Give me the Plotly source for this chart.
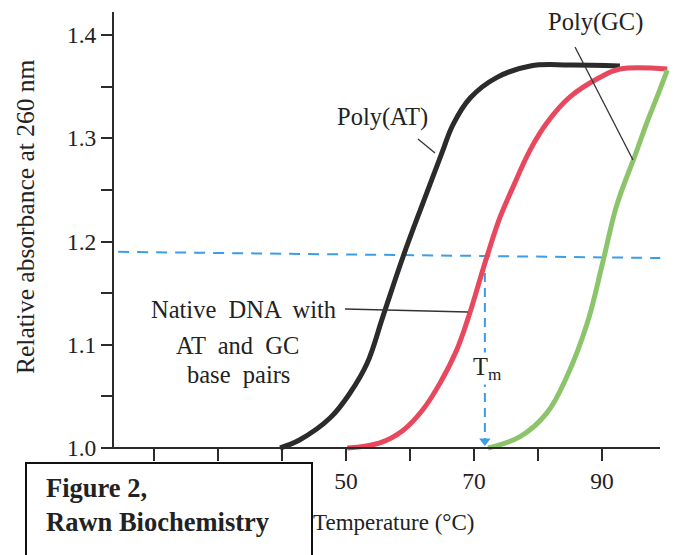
import plotly.graph_objects as go

# ---------------- data ----------------
poly_at_temp = [39.7, 42.8, 47.5, 50.6, 53.3, 55.8, 58.9, 62.0, 65.0, 66.7, 69.4, 73.6, 78.8, 85.0, 92.8]
poly_at_abs = [1.000, 1.008, 1.029, 1.053, 1.082, 1.128, 1.185, 1.237, 1.286, 1.313, 1.339, 1.359, 1.370, 1.371, 1.370]

native_temp = [50.2, 55.3, 58.9, 62.0, 64.7, 67.3, 69.1, 72.0, 74.1, 75.9, 78.8, 81.4, 85.0, 89.7, 92.8, 100.2]
native_abs = [1.000, 1.005, 1.017, 1.037, 1.063, 1.095, 1.126, 1.185, 1.224, 1.250, 1.289, 1.315, 1.340, 1.359, 1.367, 1.367]

poly_gc_temp = [72.2, 77.2, 81.4, 84.5, 87.7, 90.2, 92.3, 95.2, 97.0, 98.6, 100.2]
poly_gc_abs = [1.000, 1.011, 1.034, 1.069, 1.121, 1.182, 1.235, 1.284, 1.315, 1.340, 1.366]

tm_native = 71.7
half_line_temp = [14.4, 99.1]
half_line_abs = [1.190, 1.184]

x_tick_vals = [20, 30, 40, 50, 60, 70, 80, 90]
x_tick_text = ["", "30", "", "50", "", "70", "", "90"]
y_tick_vals = [1.0, 1.05, 1.1, 1.15, 1.2, 1.25, 1.3, 1.35, 1.4]
y_tick_text = ["1.0", "", "1.1", "", "1.2", "", "1.3", "", "1.4"]

x_title = "Temperature (°C)"
y_title = "Relative absorbance at 260 nm"

# ---------------- layout geometry ----------------
W, H = 681, 555
ML, MR, MT, MB = 103, 9, 4, 91
PW, PH = W - ML - MR, H - MT - MB
PX50, PPD = 346, 6.4        # pixel of 50 degC, pixels per degC
PY1, PPA = 448, 1032.5      # pixel of absorbance 1.0, pixels per unit


def dx(px):
    return 50 + (px - PX50) / PPD


def dy(py):
    return 1.0 + (PY1 - py) / PPA


def paper(px, py):
    return (px - ML) / PW, ((H - MB) - py) / PH


xr = [dx(ML), dx(W - MR)]
yr = [dy(H - MB), dy(MT)]

FONT = "Liberation Serif, Times New Roman, serif"
TXT = "#222222"
BLACK = "#2b2b2b"
RED = "#e8485e"
GREEN = "#8cc46b"
BLUE = "#3d9ce6"

fig = go.Figure()

# half-absorbance dashed line
fig.add_trace(go.Scatter(x=half_line_temp, y=half_line_abs, mode="lines",
                         line=dict(color=BLUE, width=2, dash="11px,8px"),
                         hoverinfo="skip", showlegend=False))
# Tm dashed drop line
fig.add_trace(go.Scatter(x=[tm_native, tm_native], y=[half_line_abs[1], 1.0 + 8 / PPA], mode="lines",
                         line=dict(color=BLUE, width=2, dash="9px,6px"),
                         hoverinfo="skip", showlegend=False))
fig.add_trace(go.Scatter(x=[tm_native], y=[1.0 + 7 / PPA], mode="markers",
                         marker=dict(symbol="triangle-down", size=10, color=BLUE),
                         hoverinfo="skip", showlegend=False, cliponaxis=False))

# melting curves
fig.add_trace(go.Scatter(x=poly_at_temp, y=poly_at_abs, mode="lines", name="Poly(AT)",
                         line=dict(color=BLACK, width=5, shape="spline", smoothing=1.1),
                         showlegend=False))
fig.add_trace(go.Scatter(x=native_temp, y=native_abs, mode="lines", name="Native DNA",
                         line=dict(color=RED, width=5, shape="spline", smoothing=1.1),
                         showlegend=False))
fig.add_trace(go.Scatter(x=poly_gc_temp, y=poly_gc_abs, mode="lines", name="Poly(GC)",
                         line=dict(color=GREEN, width=5, shape="spline", smoothing=1.1),
                         showlegend=False))

shapes = []
# axis lines
shapes.append(dict(type="line", xref="x", yref="y", x0=dx(113), x1=dx(660), y0=1.0, y1=1.0,
                   line=dict(color=BLACK, width=2)))
shapes.append(dict(type="line", xref="x", yref="y", x0=dx(113), x1=dx(113), y0=1.0, y1=dy(12),
                   line=dict(color=BLACK, width=2)))
# leader lines
for (a, b, c, d) in [(418, 139, 435, 153), (575, 47, 633, 160), (345, 309, 468, 312)]:
    shapes.append(dict(type="line", xref="x", yref="y", x0=dx(a), y0=dy(b), x1=dx(c), y1=dy(d),
                       line=dict(color="#333333", width=1.3)))

annotations = []


def text_at(px, py, text, size=24.5, **kw):
    x, y = paper(px, py)
    d = dict(x=x, y=y, xref="paper", yref="paper", text=text, showarrow=False,
             font=dict(family=FONT, size=size, color=TXT), xanchor="center", yanchor="middle")
    d.update(kw)
    annotations.append(d)


text_at(382, 117, "Poly(AT)")
text_at(595, 22, "Poly(GC)")
text_at(243, 310, "Native  DNA  with")
text_at(237, 345, "AT  and  GC")
text_at(238, 374, "base  pairs")
text_at(487, 368, "T<sub>m</sub>", bgcolor="white", borderpad=0)
text_at(393, 522, x_title, size=23)
text_at(25, 217, y_title, size=25.5, textangle=-90)

# figure-credit box (drawn over the axis title like the reference)
bx, by = paper(25, 462)
annotations.append(dict(x=bx, y=by, xref="paper", yref="paper", text=" ", showarrow=False,
                        xanchor="left", yanchor="top", width=284, height=120,
                        bgcolor="white", bordercolor="#111111", borderwidth=2, borderpad=0))
text_at(45, 505, "<b>Figure 2,</b><br><b>Rawn Biochemistry</b>", size=26.5,
        xanchor="left", align="left", borderpad=0)

fig.update_layout(
    width=W, height=H,
    margin=dict(l=ML, r=MR, t=MT, b=MB, pad=0),
    paper_bgcolor="white", plot_bgcolor="white",
    shapes=shapes, annotations=annotations,
    xaxis=dict(range=xr, showgrid=False, zeroline=False, showline=False,
               anchor="free", position=paper(0, PY1)[1],
               tickmode="array", tickvals=x_tick_vals, ticktext=x_tick_text,
               ticks="outside", ticklen=12, tickwidth=2, tickcolor=BLACK,
               tickfont=dict(family=FONT, size=23.5, color=TXT)),
    yaxis=dict(range=yr, showgrid=False, zeroline=False, showline=False,
               anchor="free", position=paper(113, 0)[0],
               tickmode="array", tickvals=y_tick_vals, ticktext=y_tick_text,
               ticks="outside", ticklen=12, tickwidth=2, tickcolor=BLACK,
               tickfont=dict(family=FONT, size=23.5, color=TXT)),
)

fig.write_html("out.html")
